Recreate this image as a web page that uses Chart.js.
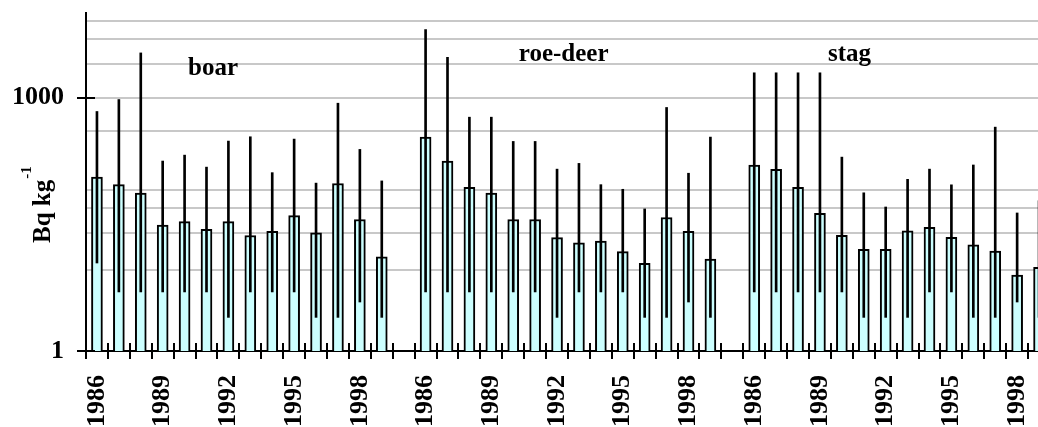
<!DOCTYPE html>
<html>
<head>
<meta charset="utf-8">
<script src="https://cdn.jsdelivr.net/npm/chart.js@4.4.0/dist/chart.umd.min.js"></script>
<style>
html, body { margin: 0; padding: 0; background: #fff; overflow: hidden; }
#wrap { width: 1080px; height: 427px; }
</style>
</head>
<body>
<div id="wrap"><canvas id="bqChart" width="1080" height="427"></canvas></div>
<script>
// activity (Bq/kg) per year, with low / high range
const years = [1986, 1987, 1988, 1989, 1990, 1991, 1992, 1993, 1994, 1995, 1996, 1997, 1998, 1999];
const groups = ['boar', 'roe-deer', 'stag'];

const boar     = [114, 93, 74, 31, 34, 27.6, 34, 23.3, 26, 40, 25, 96, 36, 13];
const boarLow  = [11, 5, 5, 5, 5, 5, 2.5, 5, 5, 5, 2.5, 2.5, 3.8, 2.5];
const boarHigh = [683, 946, 3370, 177, 208, 150, 305, 343, 129, 322, 97, 856, 243, 103];

const roe      = [340, 177, 86.5, 74, 36, 36, 22, 19, 20, 15, 10.9, 38, 26, 12.2];
const roeLow   = [5, 5, 5, 5, 5, 5, 2.5, 5, 5, 5, 2.5, 2.5, 3.8, 2.5];
const roeHigh  = [6350, 2990, 585, 585, 302, 302, 142, 166, 93, 82, 48, 762, 127, 340];

const stag     = [159, 141, 86.5, 42.6, 23.4, 16, 16, 26.4, 29, 22.2, 18, 15.2, 7.9, 9.8];
const stagLow  = [5, 5, 5, 5, 5, 2.5, 2.5, 2.5, 5, 5, 2.5, 2.5, 3.8, 2.5];
const stagHigh = [1960, 1960, 1960, 1960, 197, 74.5, 50.6, 107.5, 142, 92.6, 159, 446, 43, 60];

const shownYears = [1986, 1989, 1992, 1995, 1998];
const yGrid = [1, 4, 9, 16, 25, 36, 49, 64, 81, 100, 400, 900, 1000, 1600, 2500, 3600, 4900, 6400, 8100, 10000];
const yLabels = [1, 1000];

// one empty slot between the animals
const categories = [...years, '', ...years, '', ...years];
const barData = [...boar, null, ...roe, null, ...stag];
const lowData = [...boarLow, null, ...roeLow, null, ...stagLow];
const highData = [...boarHigh, null, ...roeHigh, null, ...stagHigh];
const errData = lowData.map((lo, i) => lo === null ? null : [lo, highData[i]]);

const FONT = '"Liberation Serif", "Times New Roman", serif';

function noPad(s) {
    s.paddingTop = 0;
    s.paddingBottom = 0;
    s.paddingLeft = 0;
    s.paddingRight = 0;
}

const decor = {
    id: 'decor',
    afterDraw(chart) {
        const c = chart.ctx;
        const xs = chart.scales.x;
        const ys = chart.scales.y;
        c.save();
        c.strokeStyle = '#000';
        c.lineWidth = 2;

        // tick marks crossing the x axis
        const half = (xs.getPixelForValue(1) - xs.getPixelForValue(0)) / 2;
        c.beginPath();
        for (let i = 0; i <= categories.length; i++) {
            const x = Math.round(xs.getPixelForValue(i) - half);
            c.moveTo(x, xs.top - 8);
            c.lineTo(x, xs.top + 8);
        }
        // tick marks crossing the y axis
        yLabels.forEach(v => {
            const y = Math.round(ys.getPixelForValue(v));
            c.moveTo(ys.right - 9, y);
            c.lineTo(ys.right + 9, y);
        });
        c.stroke();

        // animal names
        c.fillStyle = '#000';
        c.font = 'bold 25px ' + FONT;
        c.textAlign = 'center';
        c.textBaseline = 'alphabetic';
        const namePos = [[5.3, 75], [21.3, 61], [34.35, 61]];
        groups.forEach((g, i) => {
            c.fillText(g, xs.getPixelForValue(namePos[i][0]), namePos[i][1]);
        });

        // y axis title with superscript
        c.translate(50, 243);
        c.rotate(-Math.PI / 2);
        c.textAlign = 'left';
        c.font = 'bold 25px ' + FONT;
        c.fillText('Bq kg', 0, 0);
        const w = c.measureText('Bq kg').width;
        c.font = 'bold 15px ' + FONT;
        c.fillText('-1', w + 1, -19);
        c.restore();
    }
};

let chart = new Chart(document.getElementById('bqChart').getContext('2d'), {
    type: 'bar',
    data: {
        labels: categories,
        datasets: [
            {
                label: 'range',
                data: errData,
                backgroundColor: '#000',
                borderWidth: 0,
                barThickness: 2,
                grouped: false,
                order: 1
            },
            {
                label: 'mean',
                data: barData,
                backgroundColor: '#ccffff',
                borderColor: '#000',
                borderWidth: 2,
                borderSkipped: 'start',
                barThickness: 11,
                grouped: false,
                order: 2
            }
        ]
    },
    options: {
        responsive: false,
        animation: false,
        layout: { padding: { left: 0, top: 13, right: 30, bottom: 0 } },
        plugins: {
            legend: { display: false },
            tooltip: { enabled: false }
        },
        scales: {
            x: {
                grid: { display: false, drawTicks: false },
                border: { display: true, color: '#000', width: 2 },
                ticks: {
                    autoSkip: false,
                    minRotation: 90,
                    maxRotation: 90,
                    padding: 24,
                    color: '#000',
                    font: { family: FONT, size: 26, weight: 'bold' },
                    callback: function (val, idx) {
                        const lab = categories[idx];
                        return shownYears.includes(lab) ? String(lab) : '';
                    }
                },
                afterFit: (s) => { s.height = 76; noPad(s); }
            },
            y: {
                type: 'logarithmic',
                min: 1,
                max: 10000,
                afterBuildTicks: (s) => { s.ticks = yGrid.map(v => ({ value: v })); },
                grid: {
                    drawTicks: false,
                    lineWidth: 2,
                    color: (ctx) => {
                        const v = ctx.tick ? ctx.tick.value : 0;
                        if (v === 1) return 'rgba(0,0,0,0)';
                        return v === 10000 ? '#8c8c8c' : '#c8c8c8';
                    }
                },
                border: { display: true, color: '#000', width: 2 },
                ticks: {
                    padding: 22,
                    color: '#000',
                    font: { family: FONT, size: 26, weight: 'bold' },
                    callback: (v) => yLabels.includes(v) ? String(v) : ''
                },
                afterFit: (s) => { s.width = 86; noPad(s); }
            }
        }
    },
    plugins: [decor]
});
</script>
</body>
</html>
